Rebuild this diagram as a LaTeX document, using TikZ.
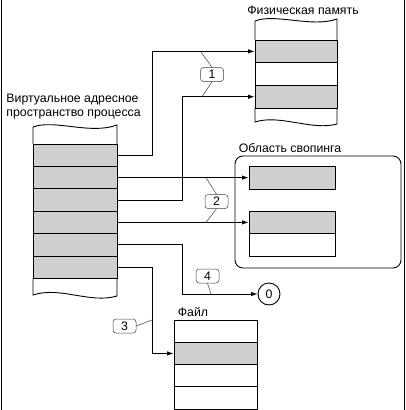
\documentclass[tikz,border=0pt]{standalone}
\usepackage{fontspec}
\setmainfont{Liberation Sans}
\usetikzlibrary{arrows.meta}

\begin{document}
\begin{tikzpicture}[x=1pt, y=-1pt, line width=0.9pt,
		every node/.style={inner sep=0pt, font=\fontsize{12.3}{13.5}\selectfont},
		cell/.style={draw=black, minimum width=84pt, minimum height=22.4pt},
		busy/.style={cell, fill=black!19},
		callout/.style={draw=black!75, line width=0.5pt, rounded corners=3pt, fill=white, minimum width=23pt, minimum height=14pt},
		lead/.style={draw=black!75, line width=0.5pt},
		map/.style={-{Latex[length=6.5pt, width=4.5pt]}}]
			\useasboundingbox (0,0) rectangle (406,410);
			\draw (1,0) -- (1,410);
			\draw (404,0) -- (404,410);
			
			% virtual address space
			\node[anchor=west, align=left] (vtext) at (6,106.5) {Виртуальное адресное\\пространство процесса};
			\draw (33,144) -- (33,127) .. controls (55,119) and (90,135) .. (117,125) -- (117,144);
			\node[busy] (v1) at (75,155.2){};
			\node[busy] (v2) at (75,177.6){};
			\node[busy] (v3) at (75,200){};
			\node[busy] (v4) at (75,222.4){};
			\node[busy] (v5) at (75,244.8){};
			\node[busy] (v6) at (75,267.2){};
			\draw (33,278.4) -- (33,295) .. controls (60,286) and (90,304) .. (117,296) -- (117,278.4);
			
			% physical memory
			\node (ptext) at (303,10) {Физическая память};
			\draw (255,40) -- (255,21) .. controls (275,13) and (312,28) .. (337,19) -- (337,40);
			\node[busy, minimum width=82pt, minimum height=22.7pt] (p1) at (296,51.35){};
			\node[cell, minimum width=82pt, minimum height=22.7pt] (pfree) at (296,74.05){};
			\node[busy, minimum width=82pt, minimum height=22.7pt] (p2) at (296,96.75){};
			\draw (255,108.1) -- (255,122) .. controls (280,114) and (312,131) .. (337,124) -- (337,108.1);
			
			% swap area
			\node (stext) at (290,148) {Область свопинга};
			\node[draw, rounded corners=8pt, minimum width=166pt, minimum height=112pt] (swap) at (318,212){};
			\node[busy, minimum width=86pt, minimum height=23pt] (s1) at (292,177.6){};
			\node[busy, minimum width=86pt] (s2) at (292,222.4){};
			\node[cell, minimum width=86pt] (s3) at (292,244.8){};
			
			% file
			\node (ftext) at (193,312) {Файл};
			\node[cell, minimum width=83pt, minimum height=22.3pt] (f1) at (215.5,331.15){};
			\node[busy, minimum width=83pt, minimum height=22.3pt] (f2) at (215.5,353.45){};
			\node[cell, minimum width=83pt, minimum height=22.3pt] (f3) at (215.5,375.75){};
			\node[cell, minimum width=83pt, minimum height=22.3pt] (f4) at (215.5,398.05){};
			
			\node[draw, circle, minimum size=22pt] (zero) at (269,294) {0};
			
			% mappings
			\draw[map] (v1.east) -- ++(35,0) |- (p1.west);
			\draw[map] (v2.east) -- (s1.west);
			\draw[map] (v3.east) -- ++(65,0) |- (p2.west);
			\draw[map] (v4.east) -- (s2.west);
			\draw[map] (v5.east) -- ++(65,0) |- (zero.west);
			\draw[map] (v6.east) -- ++(35,0) |- (f2.west);
			
			% callouts
			\node[callout] (c1) at (212,74.5) {1};
			\node[callout] (c2) at (216.5,201.5) {2};
			\node[callout] (c3) at (124.5,326) {3};
			\node[callout] (c4) at (207.5,276) {4};
			\coordinate (c1a) at (201,52);
			\coordinate (c1b) at (202,96.75);
			\coordinate (c2a) at (206,177.6);
			\coordinate (c2b) at (206,222.4);
			\coordinate (c3a) at (152,320);
			\coordinate (c4a) at (211,294);
			\path[lead] (c1.north) edge (c1a);
			\path[lead] (c1.south) edge (c1b);
			\path[lead] (c2.north) edge (c2a);
			\path[lead] (c2.south) edge (c2b);
			\path[lead] (c3.east) edge (c3a);
			\path[lead] (c4.south) edge (c4a);
			\end{tikzpicture}
\end{document}
